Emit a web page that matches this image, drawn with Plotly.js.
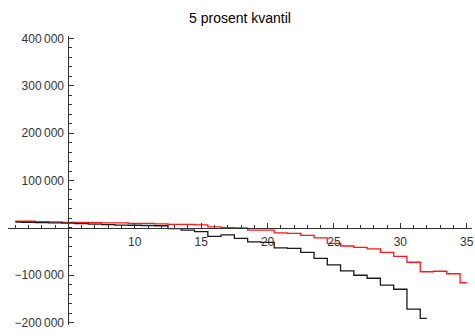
<!DOCTYPE html>
<html><head><meta charset="utf-8">
<script src="https://cdn.plot.ly/plotly-3.0.1.min.js"></script>
<style>html,body{margin:0;padding:0;background:#fff}#c{width:475px;height:336px}</style>
</head><body><div id="c"></div>
<script>
const years = [1,2,3,4,5,6,7,8,9,10,11,12,13,14,15,16,17,18,19,20,21,22,23,24,25,26,27,28,29,30,31,32,33,34,35];
const redValues = [14000,14000,13000,12500,11500,11500,11000,10500,10500,9500,9500,8500,7400,7400,6300,2100,400,0,-4600,-4600,-10500,-11600,-15800,-21000,-32600,-38300,-41000,-44200,-51600,-60000,-72600,-92600,-91600,-96800,-115800];
const blackValues = [12000,11500,11000,10500,10000,9000,8000,7000,6000,5500,5000,4500,-1700,-4600,-8000,-17900,-14700,-22100,-29500,-30500,-42100,-43200,-51600,-64200,-77900,-90900,-100000,-106300,-121000,-129500,-171600,-191100];
const xTickVals = [10,15,20,25,30,35];
const xTickText = ['10','15','20','25','30','35'];
const yTickVals = [-200000,-100000,100000,200000,300000,400000];
const yTickText = ['\u2212200\u2009000','\u2212100\u2009000','100\u2009000','200\u2009000','300\u2009000','400\u2009000'];
const titleText = '5 prosent kvantil';

const xRange = [0.45, 35.4];
const yRange = [-205000, 405000];

const traces = [
  {x: years.slice(0, redValues.length), y: redValues, type:'scatter', mode:'lines',
   line:{color:'#ff1a1a', width:1.3, shape:'hvh'}, hoverinfo:'skip'},
  {x: years.slice(0, blackValues.length), y: blackValues, type:'scatter', mode:'lines',
   line:{color:'#1a1a1a', width:1.3, shape:'hvh'}, hoverinfo:'skip'}
];
const axisColor = '#333';
const layout = {
  width:475, height:336,
  margin:{l:8, r:3, t:35.6, b:10.6, pad:0},
  paper_bgcolor:'#fff', plot_bgcolor:'#fff',
  showlegend:false,
  font:{family:'Liberation Sans, Arial, sans-serif', size:12, color:'#333'},
  title:{text:titleText, x:0.5, xref:'paper', y:0.945, yref:'container', yanchor:'middle',
         font:{family:'Liberation Sans, Arial, sans-serif', size:14, color:'#000'}},
  xaxis:{range:xRange, showgrid:false, zeroline:false, showline:true, linecolor:axisColor, linewidth:1,
         anchor:'free', position:(0 - yRange[0])/(yRange[1]-yRange[0]),
         tickmode:'array', tickvals:xTickVals, ticktext:xTickText,
         ticks:'inside', ticklen:5, tickwidth:1, tickcolor:axisColor, ticklabelstandoff:3,
         minor:{tickmode:'linear', tick0:0, dtick:1, ticks:'inside', ticklen:3, tickwidth:1, tickcolor:axisColor, showgrid:false},
         tickfont:{size:12, color:'#333'}},
  yaxis:{range:yRange, showgrid:false, zeroline:false, showline:true, linecolor:axisColor, linewidth:1,
         anchor:'free', position:(5 - xRange[0])/(xRange[1]-xRange[0]),
         tickmode:'array', tickvals:yTickVals, ticktext:yTickText,
         ticks:'inside', ticklen:5, tickwidth:1, tickcolor:axisColor, ticklabelstandoff:2,
         minor:{tickmode:'linear', tick0:0, dtick:20000, ticks:'inside', ticklen:3, tickwidth:1, tickcolor:axisColor, showgrid:false},
         tickfont:{size:12, color:'#333'}}
};
Plotly.newPlot('c', traces, layout, {staticPlot:true, displayModeBar:false});
</script></body></html>
